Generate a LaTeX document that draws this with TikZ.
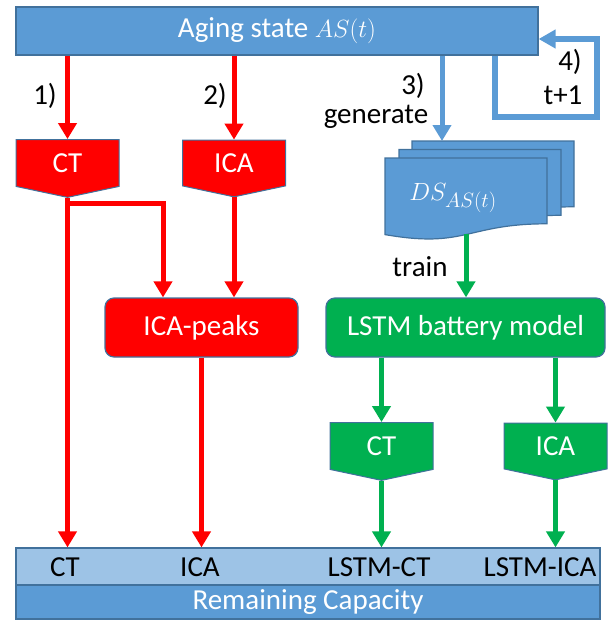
\documentclass[tikz,border=0pt]{standalone}
\usepackage{fontspec}
\setmainfont{Carlito}
\usetikzlibrary{calc,arrows.meta,shapes.symbols}
\definecolor{agblue}{HTML}{5B9BD5}
\definecolor{agpale}{HTML}{9DC3E6}
\definecolor{agedge}{HTML}{41719C}
\definecolor{agred}{HTML}{FF0000}
\definecolor{aggreen}{HTML}{00B050}
\tikzset{
  barbox/.style={draw=agedge, line width=1.2pt, fill=agblue, text=white, inner sep=0pt},
  sigbox/.style={signal, signal to=south, signal pointer angle=156, draw=agedge, line width=1pt,
    minimum width=103pt, minimum height=50pt, inner sep=0pt, text=white},
  roundbox/.style={draw=agedge, line width=1.2pt, rounded corners=9pt, minimum height=59pt,
    inner sep=0pt, text=white},
  docsheet/.style={draw=agedge, line width=1.2pt, fill=agblue},
  steplbl/.style={inner sep=0.5pt},
  redarrow/.style={draw=agred, line width=5pt, -{Triangle[width=18pt,length=16pt]}},
  greenarrow/.style={draw=aggreen, line width=5pt, -{Triangle[width=18pt,length=16pt]}},
  bluearrow/.style={draw=agblue, line width=5pt, -{Triangle[width=18pt,length=16pt]}},
  loopline/.style={draw=agblue, line width=6pt, -{Triangle[width=18pt,length=17pt]}},
}
% one sheet of the data set stack, top left corner at (#1,#2)
\newcommand{\dssheet}[2]{%
  \draw[docsheet] (#1,#2) -- ++(162,0) -- ++(0,65.8)
    .. controls ($(#1,#2)+(81,65.8)$) and ($(#1,#2)+(81,90.8)$) .. ($(#1,#2)+(0,76.6)$) -- cycle;}
\begin{document}
\begin{tikzpicture}[x=1pt,y=-1pt,font=\fontsize{29pt}{34pt}\selectfont]
  \useasboundingbox (0,0) rectangle (609,621);
  % aging state
  \node[barbox, minimum width=522pt, minimum height=48pt] (agebar) at (277,31) {Aging state $AS(t)$};
  % red path
  \node[sigbox, fill=agred] (ctr) at (67.5,163) {CT};
  \node[sigbox, fill=agred] (icar) at (234,163) {ICA};
  \node[roundbox, fill=agred, minimum width=193pt] (peaks) at (201.5,327.5) {ICA-peaks};
  % data set stack
  \dssheet{412}{141}
  \dssheet{399}{149.5}
  \dssheet{385}{158}
  \node[text=white] (dstext) at (453,198) {$DS_{AS(t)}$};
  \coordinate (dstop) at (442,141);
  \coordinate (dsbot) at (466,234);
  % green path
  \node[roundbox, fill=aggreen, minimum width=279pt] (lstm) at (465.5,327.5) {LSTM battery model};
  \node[sigbox, fill=aggreen] (ctg) at (381.5,446) {CT};
  \node[sigbox, fill=aggreen] (icag) at (555.5,446) {ICA};
  % remaining capacity
  \node[barbox, fill=agpale, minimum width=584pt, minimum height=37pt] (capbar) at (308,566.5) {};
  \node[barbox, minimum width=584pt, minimum height=34pt] (rembar) at (308,602) {Remaining Capacity};
  \node (capct) at (65,567) {CT};
  \node (capica) at (200,567) {ICA};
  \node (caplct) at (379,567) {LSTM-CT};
  \node (caplica) at (540,567) {LSTM-ICA};
  % step labels
  \node[steplbl] (step1) at (45,96) {1)};
  \node[steplbl] (step2) at (215,96) {2)};
  \node[steplbl] (step3) at (413,86) {3)};
  \node[steplbl] (gen) at (376,117) {generate};
  \node[steplbl] (step4) at (570,62) {4)};
  \node[steplbl] (tnext) at (563,95) {t+1};
  \node[steplbl] (train) at (420,267) {train};
  %
  \draw[redarrow] (agebar.south -| ctr.north) -- (ctr.north);
  \draw[redarrow] (agebar.south -| icar.north) -- (icar.north);
  \draw[redarrow] (ctr.south) -- (ctr.south |- capbar.north);
  \draw[redarrow] ($(ctr.south)+(0,6)$) -| ($(peaks.north)+(-38.5,0)$);
  \draw[redarrow] (icar.south) -- (icar.south |- peaks.north);
  \draw[redarrow] (peaks.south) -- (peaks.south |- capbar.north);
  \draw[bluearrow] (agebar.south -| dstop) -- (dstop);
  \draw[loopline] ($(agebar.south)+(218,0)$) |- (597,117) |- ($(agebar.east)+(0,8)$);
  \draw[greenarrow] (dsbot) -- (dsbot |- lstm.north);
  \draw[greenarrow] (lstm.south -| ctg.north) -- (ctg.north);
  \draw[greenarrow] (lstm.south -| icag.north) -- (icag.north);
  \draw[greenarrow] (ctg.south) -- (ctg.south |- capbar.north);
  \draw[greenarrow] (icag.south) -- (icag.south |- capbar.north);
\end{tikzpicture}
\end{document}
